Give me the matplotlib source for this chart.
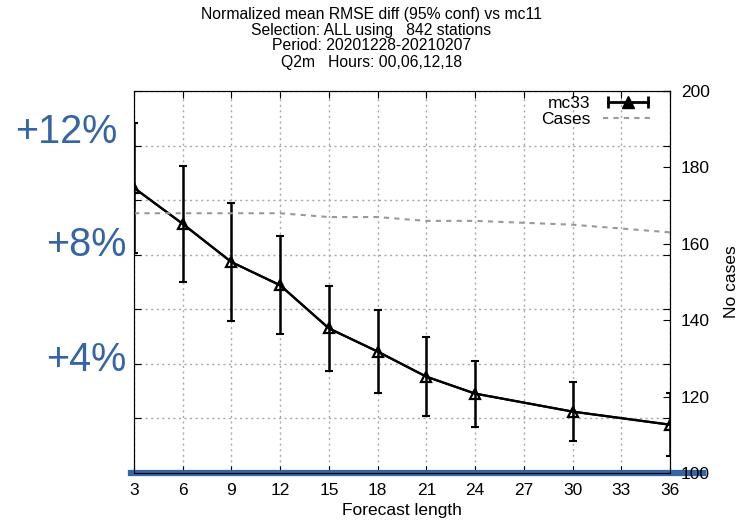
import matplotlib
matplotlib.use("Agg")
import matplotlib.pyplot as plt
import matplotlib.transforms as mtransforms
from matplotlib.lines import Line2D
from matplotlib.legend_handler import HandlerLine2D, HandlerTuple

plt.rcParams["font.family"] = ["Liberation Sans", "DejaVu Sans"]

# forecast lead times (hours) and scores
lead = [3, 6, 9, 12, 15, 18, 21, 24, 30, 36]
rmse_diff = [10.45, 9.13, 7.73, 6.88, 5.30, 4.45, 3.53, 2.91, 2.25, 1.77]
conf = [2.37, 2.12, 2.17, 1.80, 1.55, 1.53, 1.45, 1.21, 1.09, 1.16]
cases = [168, 168, 168, 168, 167, 167, 166, 166, 165, 163]

xticks = list(range(3, 37, 3))
pct_labels = ["+12%", "+8%", "+4%"]
pct_levels = [12.48, 8.37, 4.15]
pct_right = [117, 126, 126]

title_lines = ["Normalized mean RMSE diff (95% conf) vs mc11",
               "Selection: ALL using   842 stations",
               "Period: 20201228-20210207",
               "Q2m   Hours: 00,06,12,18"]

W, H = 743, 525
fig = plt.figure(figsize=(W / 100, H / 100), dpi=100)
ax = fig.add_axes([134 / W, 1 - 473 / H, 536 / W, 382 / H])
ax2 = ax.twinx()

grid_col = "#a8a8a8"
blue = "#3465a5"

# error bars and mean line
ax.errorbar(lead, rmse_diff, yerr=conf, color="black", lw=1.6, elinewidth=1.8,
            capsize=3, capthick=1.5, zorder=4)
ax.plot(lead, rmse_diff, color="black", lw=1.6, marker="^", ms=7,
        mfc="none", mew=1.6, zorder=4)

# number of cases on the right axis
ax2.plot(lead, cases, color="#999999", lw=1.5, ls=(0, (2.5, 2.5)), zorder=2)

ax.set_xlim(3, 36)
ax.set_ylim(0, 14)
ax2.set_ylim(100, 200)
ax.set_xticks(xticks)
ax.set_yticks(range(0, 15, 2))
ax2.set_yticks(range(100, 201, 20))

ax.grid(True, color=grid_col, ls=(0, (1.5, 2.5)), lw=1)
ax.tick_params(direction="in", length=5, top=True, right=True,
               labelleft=False, labelsize=12.5, pad=7)
ax2.tick_params(direction="in", length=5, labelsize=12.5, pad=8)
ax.spines["left"].set_color("#555555")

ax.set_xlabel("Forecast length", fontsize=12.5, labelpad=4)
ax2.set_ylabel("No cases", fontsize=12.5, labelpad=10)

# blue zero line across the bottom
ax.axhline(0, xmin=-0.006, xmax=1.062, color=blue, lw=4.5,
           clip_on=False, zorder=6)

# big percent annotations
trans = mtransforms.blended_transform_factory(fig.transFigure, ax.transData)
for lab, lev, xr in zip(pct_labels, pct_levels, pct_right):
    ax.text(xr / W, lev, lab, transform=trans, ha="right", va="center",
            fontsize=28.5, color=blue, clip_on=False)

# title, one line at a time so the spacing matches
for i, line in enumerate(title_lines):
    fig.text(0.5, 1 - (14 + 16 * i) / H, line, ha="center", va="center",
             fontsize=11.3)

# legend in gnuplot style: label, then sample
caps = Line2D([], [], color="black", lw=2, marker="|", ms=8, mew=2)
tri = Line2D([], [], color="black", lw=0, marker="^", ms=8)
case_line = Line2D([], [], color="#999999", lw=1.5, ls=(0, (2.5, 2.5)))
ax2.legend([(caps, tri), case_line], ["mc33", "Cases"],
           handler_map={caps: HandlerLine2D(numpoints=2),
                        tri: HandlerLine2D(numpoints=1),
                        tuple: HandlerTuple(ndivide=1)},
           loc="upper right", frameon=False, markerfirst=False,
           fontsize=12.5, handlelength=2.9, borderaxespad=0.1,
           labelspacing=0.05, handletextpad=0.7, bbox_to_anchor=(0.985, 1.01))

fig.savefig("out.png", dpi=100)
